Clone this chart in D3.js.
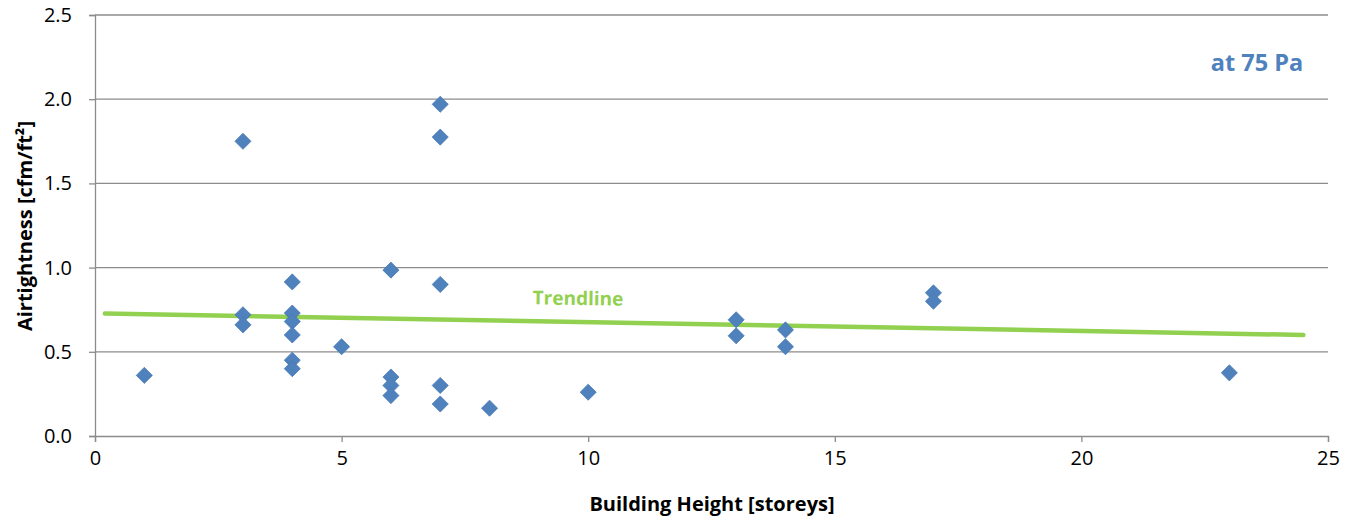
<!DOCTYPE html>
<html><head><meta charset="utf-8">
<script src="https://cdn.jsdelivr.net/npm/d3@7"></script>
<style>body{margin:0;background:#fff;}svg text{font-family:"Open Sans","Noto Sans",sans-serif;}</style>
</head><body><svg id="c" width="1356" height="520"></svg>
<script>
const storeys = [1,3,3,3,4,4,4,4,4,4,5,6,6,6,6,7,7,7,7,7,8,10,13,13,14,14,17,17,23];
const airtightness = [0.36,1.75,0.72,0.66,0.915,0.73,0.68,0.60,0.45,0.40,0.53,0.985,0.35,0.30,0.24,1.97,1.775,0.90,0.30,0.19,0.165,0.26,0.69,0.595,0.63,0.53,0.85,0.80,0.375];
const trendX = [0.2, 24.5];
const trendY = [0.727, 0.60];
const xTicks = [0,5,10,15,20,25];
const yTicks = [0,0.5,1.0,1.5,2.0,2.5];

const svg = d3.select("#c");
const x = d3.scaleLinear().domain([0,25]).range([95,1328]);
const y = d3.scaleLinear().domain([0,2.5]).range([436,15]);

// gridlines
svg.append("g").selectAll("line").data(yTicks.slice(1)).join("line")
  .attr("x1",95).attr("x2",1328).attr("y1",d=>y(d)).attr("y2",d=>y(d))
  .attr("stroke","#8c8c8c").attr("stroke-width",1.3);

// y axis
const ya = svg.append("g").attr("transform","translate(95,0)")
  .call(d3.axisLeft(y).tickValues(yTicks).tickFormat(d3.format(".1f")).tickSize(6).tickPadding(17));
ya.select(".domain").attr("stroke","#8c8c8c").attr("stroke-width",1.3);
ya.selectAll(".tick line").attr("stroke","#8c8c8c").attr("stroke-width",1.3);
ya.selectAll(".tick text").attr("font-size",20).attr("fill","#000").attr("font-family","'Open Sans',sans-serif");

// x axis
const xa = svg.append("g").attr("transform","translate(0,436)")
  .call(d3.axisBottom(x).tickValues(xTicks).tickFormat(d3.format("d")).tickSize(6).tickPadding(9));
xa.select(".domain").attr("stroke","#8c8c8c").attr("stroke-width",1.3);
xa.selectAll(".tick line").attr("stroke","#8c8c8c").attr("stroke-width",1.3);
xa.selectAll(".tick text").attr("font-size",20).attr("fill","#000").attr("font-family","'Open Sans',sans-serif");

// trendline
svg.append("line")
  .attr("x1",x(trendX[0])).attr("y1",y(trendY[0]))
  .attr("x2",x(trendX[1])).attr("y2",y(trendY[1]))
  .attr("stroke","#92D050").attr("stroke-width",4.5).attr("stroke-linecap","round");

// points
const pts = storeys.map((s,i)=>({x:s,y:airtightness[i]}));
svg.append("g").selectAll("path").data(pts).join("path")
  .attr("d", d3.symbol(d3.symbolDiamond2, 165))
  .attr("transform", d=>`translate(${x(d.x)},${y(d.y)})`)
  .attr("fill","#4F81BD").attr("stroke","#4a7ab5").attr("stroke-width",0.8);

// labels
svg.append("text").attr("x",578).attr("y",305).attr("text-anchor","middle")
  .attr("font-size",19).attr("font-weight","bold").attr("fill","#92D050")
  .attr("transform","rotate(0.8,578,299)").text("Trendline");
svg.append("text").attr("x",1257).attr("y",71).attr("text-anchor","middle")
  .attr("font-size",23.5).attr("font-weight","bold").attr("fill","#4F81BD")
  .text("at 75 Pa");
svg.append("text").attr("x",712).attr("y",511).attr("text-anchor","middle")
  .attr("font-size",20).attr("font-weight","bold").attr("fill","#000")
  .text("Building Height [storeys]");
svg.append("text").attr("transform","translate(32,226) rotate(-90)").attr("text-anchor","middle")
  .attr("font-size",20).attr("font-weight","bold").attr("fill","#000")
  .text("Airtightness [cfm/ft²]");
</script></body></html>
